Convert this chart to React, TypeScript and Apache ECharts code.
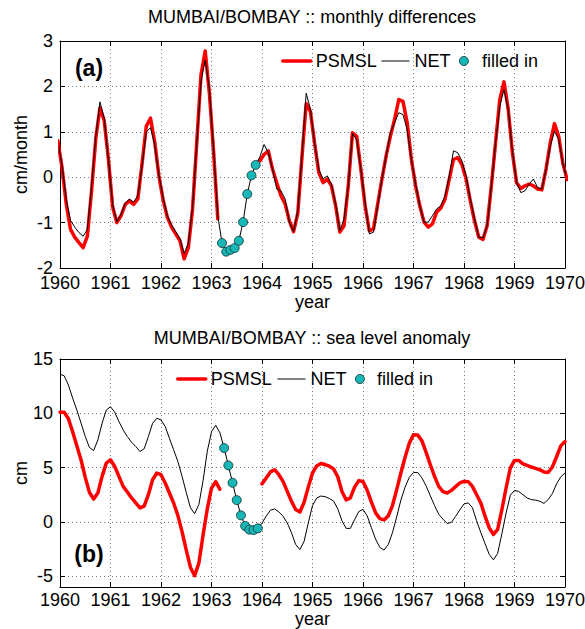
import { useEffect, useRef } from "react";
import * as echarts from "echarts";

// ---------- data ----------
const X_MIN = 1960;
const X_MAX = 1970;

// (a) monthly differences, cm/month; monthly values from Dec 1959 to Jan 1970 (mid-month)
const DIFF_FIRST_MONTH = -1; // Dec 1959
const PSMSL_DIFF: (number | null)[] = [
  0.8,
  0.2, -0.6, -1.15, -1.32, -1.44, -1.55, -1.3, -0.3, 0.85, 1.53,
  1.25, 0.4, -0.65, -1.0, -0.85, -0.6, -0.52, -0.6, -0.48, 0.3,
  1.12, 1.3, 0.78, 0.03, -0.5, -0.88, -1.1, -1.25, -1.4, -1.8,
  -1.55, -0.7, 0.76, 2.25, 2.78, 1.85, 0.55, -0.92, null, null,
  null, null, null, null, null, null, null, 0.36, 0.5, 0.58,
  0.18, -0.12, -0.41, -0.59, -0.96, -1.2, -0.8, 0.45, 1.62, 1.45,
  0.75, 0.1, -0.12, -0.04, -0.19, -0.63, -1.21, -1.07, -0.19, 0.98,
  0.9, 0.17, -0.63, -1.18, -1.14, -0.59, -0.04, 0.47, 0.9, 1.27,
  1.71, 1.67, 1.2, 0.39, -0.19, -0.63, -0.99, -1.1, -1.03, -0.77,
  -0.68, -0.48, -0.04, 0.39, 0.43, 0.28, -0.04, -0.52, -0.96, -1.32,
  -1.37, -1.07, -0.19, 0.76, 1.71, 2.1, 1.5, 0.54, -0.12, -0.25,
  -0.19, -0.15, -0.19, -0.26, -0.28, 0.18, 0.76, 1.18, 0.9, 0.3,
  -0.05,
];
const NET_DIFF: number[] = [
  0.8,
  0.25, -0.5, -0.95, -1.1, -1.22, -1.3, -1.15, -0.2, 0.9, 1.66,
  1.3, 0.4, -0.6, -0.98, -0.82, -0.58, -0.48, -0.55, -0.4, 0.25,
  1.0, 1.09, 0.72, 0.05, -0.45, -0.85, -1.05, -1.2, -1.35, -1.68,
  -1.45, -0.65, 0.75, 2.1, 2.58, 1.95, 0.6, -0.85, -1.45, -1.64,
  -1.6, -1.56, -1.4, -0.99, -0.37, 0.04, 0.27, 0.45, 0.72, 0.54,
  0.18, -0.26, -0.3, -0.48, -0.99, -1.2, -0.75, 0.5, 1.85, 1.5,
  0.75, 0.17, -0.04, 0.03, -0.15, -0.59, -1.18, -0.92, -0.19, 0.96,
  0.83, 0.17, -0.55, -1.25, -1.21, -0.62, -0.04, 0.47, 0.98, 1.2,
  1.42, 1.38, 1.05, 0.39, -0.15, -0.63, -0.99, -0.99, -0.85, -0.7,
  -0.63, -0.41, 0.03, 0.58, 0.54, 0.36, 0.03, -0.48, -0.92, -1.32,
  -1.34, -1.07, -0.19, 0.76, 1.56, 1.93, 1.49, 0.58, -0.12, -0.34,
  -0.3, -0.15, -0.04, -0.23, -0.26, 0.18, 0.69, 1.01, 0.83, 0.3,
  -0.05,
];
const FILLED_DIFF_FIRST_MONTH = 38; // Mar 1963
const FILLED_DIFF: number[] = [-1.45, -1.64, -1.6, -1.56, -1.4, -0.99, -0.37, 0.04, 0.27];

// (b) sea level anomaly, cm; values at month boundaries from Jan 1960 to Jan 1970
const PSMSL_LEVEL: (number | null)[] = [
  10.1, 10.1, 9.5, 8.3, 7.0, 5.7, 4.1, 2.7, 2.1, 2.66,
  4.19, 5.41, 5.72, 5.1, 4.19, 3.27, 2.75, 2.2, 1.74, 1.28,
  1.44, 2.5, 3.88, 4.5, 4.34, 3.58, 2.66, 1.74, 0.6, -0.9,
  -2.6, -4.2, -4.95, -3.8, -1.2, 1.2, 3.1, 3.7, 3.0, null,
  null, null, null, null, null, null, null, null, 3.5, 4.04,
  4.6, 4.8, 4.34, 3.73, 2.81, 1.9, 1.13, 0.9, 1.8, 3.2,
  4.5, 5.15, 5.38, 5.28, 5.13, 4.88, 4.15, 2.8, 2.02, 2.2,
  3.2, 3.8, 3.72, 2.9, 1.82, 0.83, 0.3, 0.18, 0.55, 1.5,
  2.95, 4.5, 5.95, 7.25, 8.03, 8.0, 7.46, 6.4, 5.26, 4.19,
  3.27, 2.78, 2.66, 2.9, 3.24, 3.58, 3.73, 3.7, 3.27, 2.5,
  1.74, 0.52, -0.55, -1.16, -0.7, 1.13, 3.12, 4.95, 5.66, 5.66,
  5.35, 5.2, 5.05, 4.92, 4.8, 4.6, 4.55, 5.05, 6.0, 7.0,
  7.4,
];
const NET_LEVEL: number[] = [
  13.6, 13.45, 12.6, 11.4, 10.3, 9.1, 7.86, 6.85, 6.57, 7.55,
  9.08, 10.3, 10.6, 10.1, 9.24, 8.47, 7.86, 7.34, 6.94, 6.48,
  6.73, 7.86, 9.08, 9.54, 9.39, 8.78, 7.7, 6.64, 5.57, 4.2,
  2.7, 1.3, 0.75, 1.6, 3.8, 6.5, 8.3, 8.9, 8.2, 6.8,
  5.2, 3.6, 2.0, 0.6, -0.38, -0.72, -0.75, -0.6, -0.12, 0.52,
  1.07, 1.19, 0.92, 0.52, -0.1, -1.0, -2.08, -2.55, -1.8, -0.1,
  1.5, 2.2, 2.38, 2.32, 2.15, 1.92, 1.2, 0.1, -0.6, -0.6,
  0.2, 0.95, 1.15, 0.55, -0.55, -1.6, -2.35, -2.6, -2.1, -1.0,
  0.45, 2.0, 3.2, 4.1, 4.55, 4.55, 4.05, 3.3, 2.4, 1.5,
  0.7, 0.25, -0.15, -0.05, 0.5, 1.1, 1.65, 1.75, 1.3, 0.1,
  -1.0, -2.0, -3.0, -3.5, -2.9, -1.1, 0.8, 2.45, 2.9, 2.8,
  2.5, 2.2, 2.05, 2.0, 1.9, 1.7, 2.05, 2.6, 3.5, 4.15,
  4.5,
];
const FILLED_LEVEL_FIRST = 39; // Apr 1963 boundary
const FILLED_LEVEL: number[] = [6.8, 5.2, 3.6, 2.0, 0.6, -0.38, -0.72, -0.75, -0.6];

const A_Y_MIN = -2;
const A_Y_MAX = 3;
const B_Y_MIN = -6;
const B_Y_MAX = 15;
const B_Y_TICKS = [-5, 0, 5, 10, 15];

const TITLE_A = "MUMBAI/BOMBAY :: monthly differences";
const TITLE_B = "MUMBAI/BOMBAY :: sea level anomaly";
const NAMES = { psmsl: "PSMSL", net: "NET", filled: "filled in" };

// ---------- helpers ----------
const midMonth = (vals: (number | null)[], first: number) =>
  vals.map((v, j) => [X_MIN + (first + j + 0.5) / 12, v]);
const boundary = (vals: (number | null)[], first: number) =>
  vals.map((v, j) => [X_MIN + (first + j) / 12, v]);

const FONT = "'Liberation Sans', Arial, Helvetica, sans-serif";
const TXT = { color: "#000", fontFamily: FONT, fontSize: 18 };
const RED = "#ff0000";
const CYAN = "#19b6b6";

function buildOption(): any {
  const grids = [
    { left: 60, top: 41, width: 505, height: 227, outerBoundsMode: "none", containLabel: false },
    { left: 60, top: 359, width: 505, height: 228, outerBoundsMode: "none", containLabel: false },
  ];
  const line = { show: true, onZero: false, lineStyle: { color: "#000", width: 1 } };
  const tick = { show: true, inside: true, length: 5, lineStyle: { color: "#000", width: 1 } };
  const split = { show: true, lineStyle: { color: "#7a7a7a", width: 1, type: [1, 3] } };

  const xAxes: any[] = [];
  [0, 1].forEach((g) => {
    xAxes.push({
      type: "value", gridIndex: g, min: X_MIN, max: X_MAX, interval: 1, position: "bottom",
      axisLine: line, axisTick: tick, splitLine: split,
      axisLabel: { show: true, margin: g === 0 ? 8 : 6, lineHeight: 14, formatter: (v: number) => String(v), ...TXT },
      name: "year", nameLocation: "middle", nameGap: g === 0 ? 27 : 25,
      nameTextStyle: { ...TXT, lineHeight: 14 }, nameMoveOverlap: false,
    });
    xAxes.push({
      type: "value", gridIndex: g, min: X_MIN, max: X_MAX, interval: 1, position: "top",
      axisLine: line, axisTick: tick, splitLine: { show: false }, axisLabel: { show: false },
    });
  });

  const yAxes: any[] = [
    {
      type: "value", gridIndex: 0, min: A_Y_MIN, max: A_Y_MAX, interval: 1, position: "left",
      axisLine: line, axisTick: tick, splitLine: split,
      axisLabel: { show: true, margin: 7, lineHeight: 14, ...TXT },
      name: "cm/month", nameLocation: "middle", nameGap: 30, nameTextStyle: { ...TXT }, nameMoveOverlap: false,
    },
    {
      type: "value", gridIndex: 0, min: A_Y_MIN, max: A_Y_MAX, interval: 1, position: "right",
      axisLine: line, axisTick: tick, splitLine: { show: false }, axisLabel: { show: false },
    },
    {
      type: "value", gridIndex: 1, min: B_Y_MIN, max: B_Y_MAX, position: "left",
      axisLine: line, axisTick: { ...tick, customValues: B_Y_TICKS }, splitLine: split,
      axisLabel: { show: true, margin: 7, lineHeight: 14, customValues: B_Y_TICKS, ...TXT },
      name: "cm", nameLocation: "middle", nameGap: 30, nameTextStyle: { ...TXT }, nameMoveOverlap: false,
    },
    {
      type: "value", gridIndex: 1, min: B_Y_MIN, max: B_Y_MAX, position: "right",
      axisLine: line, axisTick: { ...tick, customValues: B_Y_TICKS }, splitLine: { show: false },
      axisLabel: { show: false },
    },
  ];

  const mkSeries = (xi: number, yi: number, psmsl: any[], net: any[], filled: any[]) => [
    {
      name: NAMES.psmsl, type: "line", xAxisIndex: xi, yAxisIndex: yi, data: psmsl,
      symbol: "none", connectNulls: false, z: 2,
      lineStyle: { color: RED, width: 3.5, join: "round", cap: "round" }, itemStyle: { color: RED },
    },
    {
      name: NAMES.net, type: "line", xAxisIndex: xi, yAxisIndex: yi, data: net,
      symbol: "none", z: 3,
      lineStyle: { color: "#000", width: 1, join: "round" }, itemStyle: { color: "#000" },
    },
    {
      name: NAMES.filled, type: "scatter", xAxisIndex: xi, yAxisIndex: yi, data: filled,
      symbol: "circle", symbolSize: 9, z: 4,
      itemStyle: { color: CYAN, borderColor: "#0b2f2f", borderWidth: 0.8, opacity: 1 },
    },
  ];

  const series = [
    ...mkSeries(0, 0, midMonth(PSMSL_DIFF, DIFF_FIRST_MONTH), midMonth(NET_DIFF, DIFF_FIRST_MONTH),
      midMonth(FILLED_DIFF, FILLED_DIFF_FIRST_MONTH)),
    ...mkSeries(2, 2, boundary(PSMSL_LEVEL, 0), boundary(NET_LEVEL, 0),
      boundary(FILLED_LEVEL, FILLED_LEVEL_FIRST)),
  ];

  const lg = { orient: "horizontal", padding: 0, itemGap: 0, selectedMode: false, textStyle: { ...TXT } };
  const legendRow = (top: number, lefts: number[], cyanW: number) => [
    { ...lg, data: [NAMES.psmsl], left: lefts[0], top, itemWidth: 28, itemHeight: 14,
      lineStyle: { width: 3.5, color: RED }, itemStyle: { opacity: 0 } },
    { ...lg, data: [NAMES.net], left: lefts[1], top, itemWidth: 28, itemHeight: 14,
      lineStyle: { width: 1, color: "#000" }, itemStyle: { opacity: 0 } },
    { ...lg, data: [NAMES.filled], left: lefts[2], top, itemWidth: cyanW, itemHeight: 9,
      itemStyle: { color: CYAN, borderColor: "#0b2f2f", borderWidth: 0.8 } },
  ];

  const legend = [
    ...legendRow(52, [281, 381, 459], 26),
    ...legendRow(370, [176, 277, 355], 24),
  ];

  const txt = (text: string, x: number, y: number, size: number, weight: string) => ({
    type: "text", x, y, z: 10,
    style: {
      text, fill: "#000", fontSize: size, fontFamily: FONT, fontWeight: weight,
      textAlign: "center", textVerticalAlign: "middle", align: "center", verticalAlign: "middle",
    },
  });

  return {
    animation: false,
    backgroundColor: "#fff",
    grid: grids,
    xAxis: xAxes,
    yAxis: yAxes,
    series,
    legend,
    graphic: [
      txt(TITLE_A, 312, 17, 18, "normal"),
      txt(TITLE_B, 312, 338, 18, "normal"),
      txt("(a)", 89, 68, 23, "bold"),
      txt("(b)", 89, 554, 23, "bold"),
    ],
  };
}

export default function App() {
  const ref = useRef<HTMLDivElement>(null);
  useEffect(() => {
    document.body.style.margin = "0";
    const chart = echarts.init(ref.current!, null, { renderer: "svg" });
    chart.setOption(buildOption());
    return () => chart.dispose();
  }, []);
  return <div ref={ref} style={{ width: 585, height: 629 }} />;
}
